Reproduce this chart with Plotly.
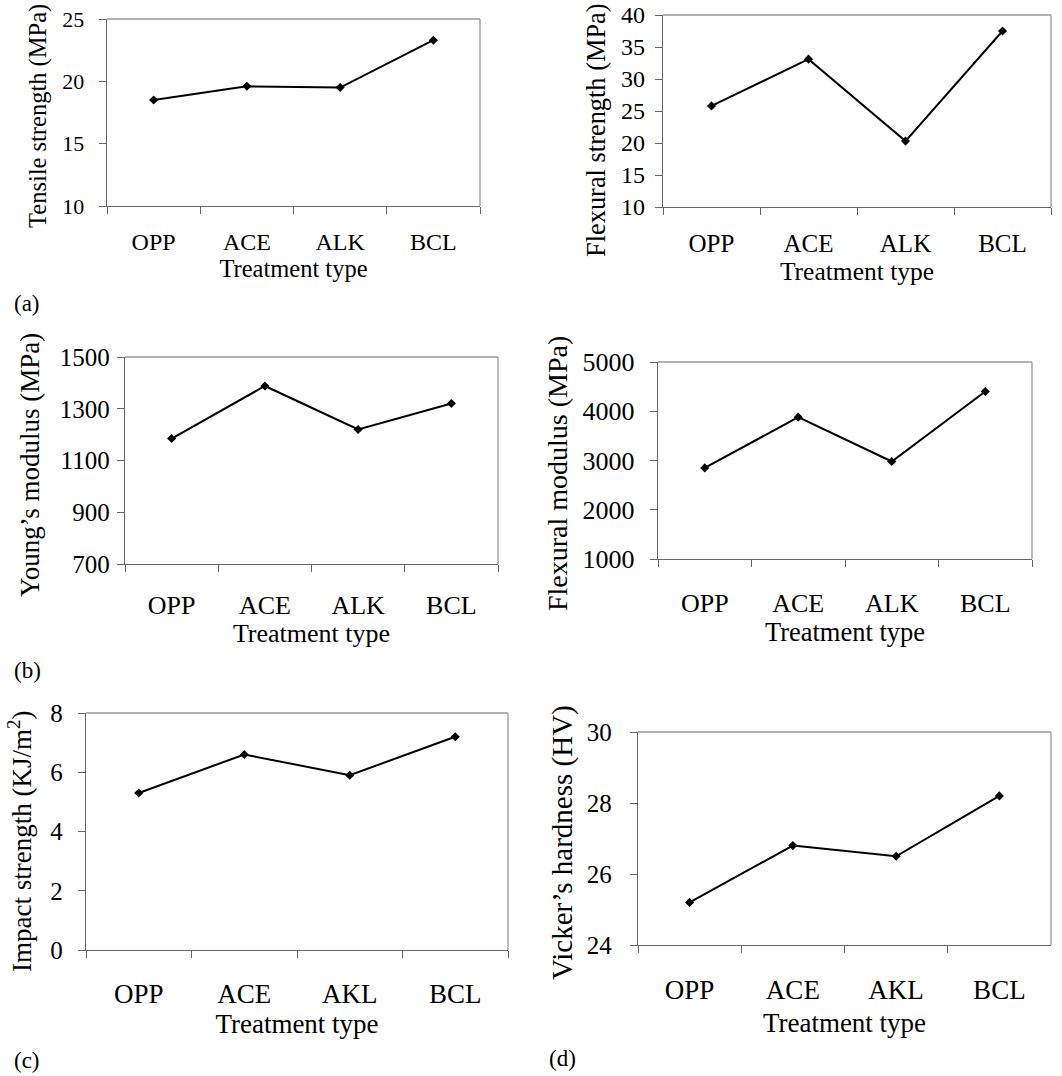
import plotly.graph_objects as go

# ---------------- data ----------------
categories_1 = ["OPP", "ACE", "ALK", "BCL"]
categories_2 = ["OPP", "ACE", "AKL", "BCL"]

tensile_strength = [18.5, 19.6, 19.5, 23.3]
flexural_strength = [25.8, 33.1, 20.3, 37.5]
youngs_modulus = [1185, 1388, 1220, 1320]
flexural_modulus = [2850, 3880, 2980, 4400]
impact_strength = [5.3, 6.6, 5.9, 7.2]
vickers_hardness = [25.2, 26.8, 26.5, 28.2]

y_titles = [
    "Tensile strength (MPa)",
    "Flexural strength (MPa)",
    "Young\u2019s modulus (MPa)",
    "Flexural modulus (MPa)",
    "Impact strength (KJ/m<sup>2</sup>)",
    "Vicker\u2019s hardness (HV)",
]
x_title = "Treatment type"
panel_labels = ["(a)", "(b)", "(c)", "(d)"]

# ---------------- layout helpers ----------------
W, H = 1062, 1076
FONT = "Liberation Serif, Times New Roman, serif"


def xd(a, b):
    return [a / W, b / W]


def yd(top, bottom):
    return [1 - bottom / H, 1 - top / H]


# per panel: categories, values, pixel box (x0,x1,top,bottom), y range, dtick,
# style: (ytick font, ytick standoff, xtick font, xtick standoff, xtitle font, xtitle standoff)
# ytitle: (center x, center y, font size)
panels = [
    (categories_1, tensile_strength, (107, 480, 19, 206), [10, 25], 5,
     (22, 10, 24, 14, 24.5, 5), (38, 116, 24.5)),
    (categories_1, flexural_strength, (663, 1051, 15, 207), [10, 40], 5,
     (24, 5, 25, 14, 25.5, 4), (596, 130, 26.4)),
    (categories_1, youngs_modulus, (125, 498, 357, 564), [700, 1500], 200,
     (25, 2, 26, 17, 26, 4), (30, 465, 27)),
    (categories_1, flexural_modulus, (658, 1032, 362, 559), [1000, 5000], 1000,
     (26, 10, 26, 20, 26.5, 6), (557, 474, 28)),
    (categories_2, impact_strength, (86, 508, 713, 950), [0, 8], 2,
     (25, 10, 27, 19, 27, 6), (20, 842, 27)),
    (categories_2, vickers_hardness, (638, 1051, 732, 945), [24, 30], 2,
     (25, 13, 27, 20, 27, 9), (562, 843, 29)),
]

fig = go.Figure()
layout = dict(
    width=W,
    height=H,
    margin=dict(l=0, r=0, t=0, b=0),
    paper_bgcolor="white",
    plot_bgcolor="white",
    showlegend=False,
    hovermode=False,
    font=dict(family=FONT, color="black", size=22),
)
shapes = []
annotations = []

for i, (cats, vals, box, yr, dt, st, yt) in enumerate(panels):
    n = "" if i == 0 else str(i + 1)
    ytf, yts, xtf, xts, xttf, xtts = st
    fig.add_trace(
        go.Scatter(
            x=cats,
            y=vals,
            mode="lines+markers",
            line=dict(color="black", width=2),
            marker=dict(symbol="diamond", size=7, color="black"),
            xaxis="x" + n,
            yaxis="y" + n,
        )
    )
    x0, x1, top, bottom = box
    layout["xaxis" + n] = dict(
        domain=xd(x0, x1),
        anchor="y" + n,
        type="category",
        categoryorder="array",
        categoryarray=cats,
        range=[-0.5, 3.5],
        showgrid=False,
        zeroline=False,
        showline=True,
        linecolor="#666666",
        linewidth=1.3,
        ticks="outside",
        tickson="boundaries",
        ticklen=7,
        tickcolor="#666666",
        ticklabelstandoff=xts,
        ticklabeloverflow="allow",
        tickfont=dict(family=FONT, size=xtf, color="black"),
        title=dict(text=x_title, font=dict(family=FONT, size=xttf, color="black"), standoff=xtts),
        automargin=False,
    )
    layout["yaxis" + n] = dict(
        domain=yd(top, bottom),
        anchor="x" + n,
        range=yr,
        dtick=dt,
        tick0=yr[0],
        showgrid=False,
        zeroline=False,
        showline=True,
        linecolor="#666666",
        linewidth=1.3,
        ticks="outside",
        ticklen=7,
        tickcolor="#666666",
        ticklabelstandoff=yts,
        ticklabeloverflow="allow",
        tickfont=dict(family=FONT, size=ytf, color="black"),
        automargin=False,
    )
    # y-axis title placed as rotated text
    tx, ty, tf = yt
    annotations.append(dict(text=y_titles[i], xref="paper", yref="paper",
                            x=tx / W, y=1 - ty / H, xanchor="center", yanchor="middle",
                            textangle=-90, showarrow=False,
                            font=dict(family=FONT, size=tf, color="black")))
    # light top / right border of the plot area
    shapes.append(dict(type="line", xref="x" + n + " domain", yref="y" + n + " domain",
                       x0=0, x1=1, y0=1, y1=1, line=dict(color="#9a9a9a", width=1.3)))
    shapes.append(dict(type="line", xref="x" + n + " domain", yref="y" + n + " domain",
                       x0=1, x1=1, y0=0, y1=1, line=dict(color="#9a9a9a", width=1.3)))

layout["shapes"] = shapes

label_pos = [(12, 303), (12, 670), (12, 1060), (547, 1058)]
for t, (px, py) in zip(panel_labels, label_pos):
    annotations.append(dict(text=t, xref="paper", yref="paper", x=px / W, y=1 - py / H,
                            xanchor="left", yanchor="middle", showarrow=False,
                            font=dict(family=FONT, size=23, color="black")))
layout["annotations"] = annotations

fig.update_layout(**layout)
fig.write_html(
    "out.html",
    config={"displayModeBar": False, "staticPlot": True},
    post_script="document.body.style.margin='0';document.body.style.overflow='hidden';",
)
